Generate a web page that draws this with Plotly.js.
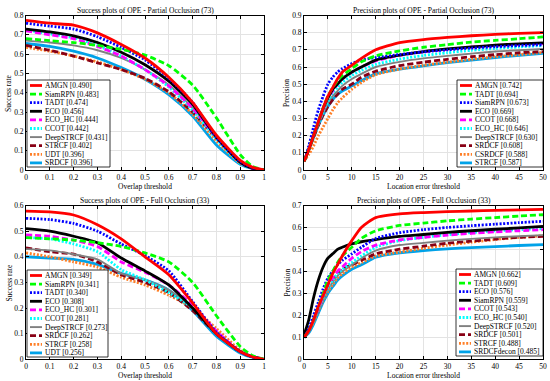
<!DOCTYPE html>
<html>
<head>
<meta charset="utf-8">
<script src="https://cdn.plot.ly/plotly-3.0.1.min.js"></script>
<style>
  html, body { margin: 0; padding: 0; background: #fff; }
  #chart { width: 550px; height: 381px; }
</style>
</head>
<body>
<div id="chart"></div>
<script>
const W = 550, H = 381;

// threshold grids
const overlapX = [0, 0.1, 0.2, 0.3, 0.4, 0.5, 0.6, 0.7, 0.8, 0.9, 0.95, 1];
const errorX = [0, 1, 2, 3, 4, 5, 6, 7, 8, 10, 12, 15, 20, 25, 30, 35, 40, 45, 50];

// Success plots - Partial Occlusion (73)
const poSuccNames = ["AMGN", "SiamRPN", "TADT", "ECO", "ECO_HC", "CCOT", "DeepSTRCF", "STRCF", "UDT", "SRDCF"];
const poSuccScores = [0.490, 0.483, 0.474, 0.456, 0.444, 0.442, 0.431, 0.402, 0.396, 0.396];
const poSuccY = [
  [0.775, 0.76, 0.75, 0.71, 0.65, 0.58, 0.48, 0.35, 0.18, 0.05, 0.015, 0],
  [0.68, 0.67, 0.66, 0.645, 0.625, 0.595, 0.54, 0.44, 0.27, 0.08, 0.02, 0],
  [0.76, 0.745, 0.73, 0.69, 0.635, 0.57, 0.475, 0.35, 0.17, 0.045, 0.012, 0],
  [0.73, 0.715, 0.695, 0.66, 0.61, 0.545, 0.46, 0.34, 0.17, 0.04, 0.01, 0],
  [0.72, 0.70, 0.68, 0.64, 0.59, 0.52, 0.435, 0.32, 0.17, 0.04, 0.01, 0],
  [0.725, 0.705, 0.685, 0.645, 0.59, 0.52, 0.43, 0.31, 0.16, 0.035, 0.01, 0],
  [0.67, 0.66, 0.645, 0.62, 0.58, 0.52, 0.44, 0.32, 0.17, 0.04, 0.01, 0],
  [0.645, 0.62, 0.59, 0.555, 0.52, 0.475, 0.405, 0.30, 0.165, 0.04, 0.01, 0],
  [0.635, 0.615, 0.59, 0.56, 0.52, 0.47, 0.40, 0.29, 0.15, 0.035, 0.01, 0],
  [0.655, 0.64, 0.615, 0.58, 0.53, 0.47, 0.39, 0.28, 0.13, 0.03, 0.008, 0]
];

// Precision plots - Partial Occlusion (73)
const poPrecNames = ["AMGN", "TADT", "SiamRPN", "ECO", "CCOT", "ECO_HC", "DeepSTRCF", "SRDCF", "CSRDCF", "STRCF"];
const poPrecScores = [0.742, 0.694, 0.673, 0.669, 0.668, 0.646, 0.630, 0.608, 0.588, 0.587];
const poPrecY = [
  [0.05, 0.12, 0.20, 0.28, 0.36, 0.43, 0.48, 0.53, 0.57, 0.61, 0.65, 0.70, 0.742, 0.76, 0.772, 0.782, 0.79, 0.796, 0.80],
  [0.05, 0.12, 0.20, 0.28, 0.36, 0.43, 0.48, 0.52, 0.55, 0.59, 0.63, 0.665, 0.694, 0.715, 0.73, 0.745, 0.755, 0.765, 0.775],
  [0.05, 0.14, 0.25, 0.35, 0.43, 0.50, 0.54, 0.57, 0.59, 0.62, 0.64, 0.655, 0.673, 0.688, 0.70, 0.71, 0.718, 0.725, 0.73],
  [0.05, 0.12, 0.20, 0.28, 0.36, 0.42, 0.47, 0.50, 0.53, 0.57, 0.60, 0.64, 0.669, 0.69, 0.705, 0.717, 0.727, 0.735, 0.74],
  [0.05, 0.12, 0.20, 0.28, 0.35, 0.42, 0.46, 0.50, 0.53, 0.57, 0.60, 0.635, 0.668, 0.688, 0.703, 0.715, 0.725, 0.732, 0.737],
  [0.05, 0.12, 0.20, 0.27, 0.34, 0.40, 0.45, 0.48, 0.51, 0.55, 0.58, 0.615, 0.646, 0.667, 0.683, 0.697, 0.708, 0.717, 0.725],
  [0.05, 0.12, 0.20, 0.27, 0.33, 0.39, 0.43, 0.46, 0.49, 0.53, 0.56, 0.60, 0.630, 0.65, 0.665, 0.678, 0.69, 0.698, 0.705],
  [0.05, 0.12, 0.19, 0.26, 0.32, 0.37, 0.41, 0.44, 0.47, 0.50, 0.54, 0.575, 0.608, 0.628, 0.645, 0.66, 0.672, 0.683, 0.69],
  [0.05, 0.09, 0.14, 0.20, 0.25, 0.30, 0.35, 0.39, 0.42, 0.47, 0.51, 0.555, 0.588, 0.61, 0.628, 0.645, 0.66, 0.672, 0.685],
  [0.05, 0.12, 0.19, 0.26, 0.32, 0.37, 0.41, 0.44, 0.46, 0.49, 0.52, 0.56, 0.587, 0.607, 0.625, 0.64, 0.655, 0.668, 0.68]
];

// Success plots - Full Occlusion (33)
const foSuccNames = ["AMGN", "SiamRPN", "TADT", "ECO", "ECO_HC", "CCOT", "DeepSTRCF", "SRDCF", "STRCF", "UDT"];
const foSuccScores = [0.349, 0.341, 0.340, 0.308, 0.301, 0.281, 0.273, 0.262, 0.258, 0.256];
const foSuccY = [
  [0.578, 0.575, 0.563, 0.525, 0.47, 0.40, 0.33, 0.22, 0.10, 0.03, 0.01, 0],
  [0.475, 0.47, 0.465, 0.455, 0.44, 0.415, 0.38, 0.30, 0.17, 0.05, 0.015, 0],
  [0.55, 0.545, 0.53, 0.50, 0.45, 0.405, 0.345, 0.225, 0.105, 0.03, 0.01, 0],
  [0.51, 0.50, 0.48, 0.455, 0.395, 0.345, 0.29, 0.20, 0.10, 0.03, 0.01, 0],
  [0.485, 0.48, 0.465, 0.44, 0.38, 0.34, 0.29, 0.21, 0.11, 0.03, 0.01, 0],
  [0.475, 0.47, 0.45, 0.42, 0.35, 0.31, 0.26, 0.20, 0.10, 0.03, 0.01, 0],
  [0.43, 0.425, 0.41, 0.39, 0.335, 0.31, 0.27, 0.20, 0.11, 0.03, 0.01, 0],
  [0.435, 0.42, 0.41, 0.38, 0.33, 0.30, 0.26, 0.19, 0.10, 0.03, 0.01, 0],
  [0.415, 0.40, 0.38, 0.36, 0.32, 0.29, 0.25, 0.20, 0.12, 0.035, 0.01, 0],
  [0.40, 0.395, 0.39, 0.37, 0.335, 0.31, 0.27, 0.19, 0.09, 0.025, 0.008, 0]
];

// Precision plots - Full Occlusion (33)
const foPrecNames = ["AMGN", "TADT", "ECO", "SiamRPN", "CCOT", "ECO_HC", "DeepSTRCF", "SRDCF", "STRCF", "SRDCFdecon"];
const foPrecScores = [0.662, 0.609, 0.576, 0.559, 0.543, 0.540, 0.520, 0.501, 0.488, 0.485];
const foPrecY = [
  [0.10, 0.13, 0.18, 0.24, 0.29, 0.34, 0.39, 0.43, 0.47, 0.54, 0.60, 0.645, 0.662, 0.668, 0.672, 0.675, 0.678, 0.68, 0.682],
  [0.10, 0.13, 0.18, 0.24, 0.30, 0.36, 0.40, 0.44, 0.47, 0.51, 0.55, 0.585, 0.609, 0.62, 0.63, 0.638, 0.645, 0.652, 0.658],
  [0.10, 0.14, 0.20, 0.26, 0.32, 0.37, 0.40, 0.43, 0.45, 0.48, 0.51, 0.55, 0.576, 0.59, 0.60, 0.608, 0.615, 0.622, 0.628],
  [0.11, 0.18, 0.28, 0.36, 0.42, 0.46, 0.48, 0.50, 0.51, 0.525, 0.535, 0.545, 0.559, 0.568, 0.578, 0.585, 0.592, 0.598, 0.605],
  [0.10, 0.13, 0.18, 0.23, 0.29, 0.34, 0.37, 0.40, 0.42, 0.46, 0.49, 0.52, 0.543, 0.555, 0.565, 0.573, 0.58, 0.585, 0.59],
  [0.10, 0.13, 0.18, 0.23, 0.28, 0.33, 0.36, 0.39, 0.41, 0.44, 0.47, 0.51, 0.540, 0.555, 0.567, 0.577, 0.585, 0.59, 0.595],
  [0.10, 0.13, 0.17, 0.22, 0.27, 0.32, 0.35, 0.38, 0.40, 0.43, 0.46, 0.495, 0.520, 0.53, 0.54, 0.548, 0.555, 0.56, 0.565],
  [0.10, 0.13, 0.18, 0.23, 0.28, 0.33, 0.36, 0.39, 0.41, 0.43, 0.45, 0.48, 0.501, 0.515, 0.528, 0.538, 0.547, 0.555, 0.56],
  [0.10, 0.13, 0.17, 0.22, 0.27, 0.31, 0.34, 0.37, 0.39, 0.42, 0.44, 0.47, 0.488, 0.505, 0.52, 0.533, 0.545, 0.555, 0.562],
  [0.10, 0.12, 0.16, 0.21, 0.26, 0.30, 0.33, 0.36, 0.38, 0.41, 0.43, 0.465, 0.485, 0.495, 0.503, 0.508, 0.513, 0.518, 0.522]
];

// styles by rank (OTB toolkit style)
const rankColors = ["#ff0000", "#00ff00", "#0000ff", "#000000", "#ff00ff", "#00ffff", "#808080", "#880015", "#ff7f27", "#00a2e8"];
const rankDash = ["solid", "6px,3px", "2px,1.6px", "solid", "6px,3px", "2px,1.6px", "solid", "6px,3px", "2px,1.6px", "solid"];
const rankWidth = [2.8, 2.8, 2.8, 2.8, 2.8, 2.8, 1.9, 2.8, 2.8, 2.8];

const FONT = "Liberation Serif, Times New Roman, serif";
const px = v => v / W;
const py = v => 1 - v / H;

// plot boxes in pixels: left, top, right, bottom
const panels = [
  {box: [26, 15.5, 264, 170], xs: overlapX, ys: poSuccY, names: poSuccNames, scores: poSuccScores,
   title: "Success plots of OPE - Partial Occlusion (73)", xt: "Overlap threshold", yt: "Success rate",
   xr: [0, 1], yr: [0, 0.8], dx: 0.1, legend: {left: 27, top: 80, w: 83}},
  {box: [304, 15.5, 543, 170], xs: errorX, ys: poPrecY, names: poPrecNames, scores: poPrecScores,
   title: "Precision plots of OPE - Partial Occlusion (73)", xt: "Location error threshold", yt: "Precision",
   xr: [0, 50], yr: [0, 0.9], dx: 5, legend: {left: 457, top: 80, w: 86}},
  {box: [26, 205.5, 264, 359.3], xs: overlapX, ys: foSuccY, names: foSuccNames, scores: foSuccScores,
   title: "Success plots of OPE - Full Occlusion (33)", xt: "Overlap threshold", yt: "Success rate",
   xr: [0, 1], yr: [0, 0.6], dx: 0.1, legend: {left: 27, top: 270, w: 81}},
  {box: [304, 205.5, 543, 359.3], xs: errorX, ys: foPrecY, names: foPrecNames, scores: foPrecScores,
   title: "Precision plots of OPE - Full Occlusion (33)", xt: "Location error threshold", yt: "Precision",
   xr: [0, 50], yr: [0, 0.7], dx: 5, legend: {left: 456, top: 269, w: 87}}
];

const traces = [];
const shapes = [];
const annotations = [];
const layout = {
  width: W, height: H,
  margin: {l: 0, r: 0, t: 0, b: 0},
  paper_bgcolor: "#fff", plot_bgcolor: "#fff",
  showlegend: false,
  font: {family: FONT, size: 7.5, color: "#000"}
};

panels.forEach((p, k) => {
  const n = k === 0 ? "" : String(k + 1);
  const [l, t, r, b] = p.box;
  layout["xaxis" + n] = {
    domain: [px(l), px(r)], range: p.xr, anchor: "y" + n,
    dtick: p.dx, tick0: 0, ticks: "inside", ticklen: 3, tickcolor: "#000",
    showline: true, linecolor: "#000", linewidth: 1, mirror: "ticks",
    showgrid: true, gridcolor: "#e3e3e3", gridwidth: 1, zeroline: false,
    tickfont: {family: FONT, size: 7.5, color: "#000"},
    title: {text: p.xt, font: {family: FONT, size: 7.5, color: "#000"}, standoff: 2}
  };
  layout["yaxis" + n] = {
    domain: [py(b), py(t)], range: p.yr, anchor: "x" + n,
    dtick: 0.1, tick0: 0, ticks: "inside", ticklen: 3, tickcolor: "#000",
    showline: true, linecolor: "#000", linewidth: 1, mirror: "ticks",
    showgrid: true, gridcolor: "#e3e3e3", gridwidth: 1, zeroline: false,
    tickfont: {family: FONT, size: 7.5, color: "#000"}
  };

  // curves, lowest rank first so the best one ends on top
  for (let i = p.names.length - 1; i >= 0; i--) {
    traces.push({
      x: p.xs, y: p.ys[i], xaxis: "x" + n, yaxis: "y" + n,
      type: "scatter", mode: "lines", hoverinfo: "skip",
      line: {color: rankColors[i], width: rankWidth[i], dash: rankDash[i], shape: "spline", smoothing: 0.6}
    });
  }

  // panel title
  annotations.push({
    text: p.title, xref: "paper", yref: "paper",
    x: px((l + r) / 2), y: py(t - 5.5), xanchor: "center", yanchor: "middle",
    showarrow: false, font: {family: FONT, size: 7.5, color: "#000"}
  });
  // y axis title, set close to the tick labels like the original
  annotations.push({
    text: p.yt, xref: "paper", yref: "paper", textangle: -90,
    x: px(l - 16.8), y: py((t + b) / 2), xanchor: "center", yanchor: "middle",
    showarrow: false, font: {family: FONT, size: 7.5, color: "#000"}
  });

  // legend box drawn by hand (plotly legend rows are too tall here)
  const lg = p.legend, rowH = 8.6;
  shapes.push({
    type: "rect", xref: "paper", yref: "paper", layer: "above",
    x0: px(lg.left), x1: px(lg.left + lg.w), y0: py(lg.top + rowH * 10 + 1), y1: py(lg.top),
    fillcolor: "#fff", line: {color: "#000", width: 0.8}
  });
  p.names.forEach((name, i) => {
    const yc = lg.top + 5.5 + i * rowH;
    shapes.push({
      type: "line", xref: "paper", yref: "paper", layer: "above",
      x0: px(lg.left + 3), x1: px(lg.left + 15), y0: py(yc), y1: py(yc),
      line: {color: rankColors[i], width: rankWidth[i], dash: rankDash[i]}
    });
    annotations.push({
      text: name + " [" + p.scores[i].toFixed(3) + "]", xref: "paper", yref: "paper",
      x: px(lg.left + 16), y: py(yc), xanchor: "left", yanchor: "middle",
      showarrow: false, font: {family: FONT, size: 7.5, color: "#000"}
    });
  });
});

layout.shapes = shapes;
layout.annotations = annotations;

Plotly.newPlot("chart", traces, layout, {staticPlot: true, displayModeBar: false});
</script>
</body>
</html>
